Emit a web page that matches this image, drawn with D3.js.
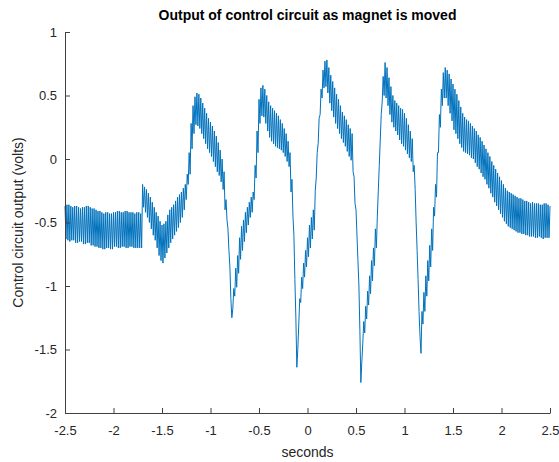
<!DOCTYPE html>
<html>
<head>
<meta charset="utf-8">
<script src="https://cdn.jsdelivr.net/npm/d3@7"></script>
<style>
  html, body { margin: 0; padding: 0; background: #fff; }
  svg { display: block; }
  text { font-family: "Liberation Sans", Arial, Helvetica, sans-serif; }
</style>
</head>
<body>
<svg id="chart" width="559" height="462"></svg>
<script>
// ---- data ----
const chartTitle = "Output of control circuit as magnet is moved";
const xLabel = "seconds";
const yLabel = "Control circuit output (volts)";

// one oscillation cycle every 0.02 s from -2.5 s to 2.5 s
const cycleStart = -2.5;
const cycleStep = 0.02;

// peak (upper) value of each cycle, volts
const upperVolts = [
  -0.37,-0.36,-0.36,-0.37,-0.38,-0.37,-0.37,-0.38,-0.39,-0.38,
  -0.38,-0.37,-0.37,-0.38,-0.39,-0.39,-0.40,-0.41,-0.41,-0.42,
  -0.43,-0.42,-0.42,-0.43,-0.43,-0.42,-0.42,-0.41,-0.41,-0.42,
  -0.42,-0.41,-0.41,-0.42,-0.42,-0.42,-0.43,-0.42,-0.42,-0.43,
  -0.20,-0.22,-0.24,-0.27,-0.30,-0.34,-0.38,-0.42,-0.45,-0.49,
  -0.52,-0.51,-0.49,-0.44,-0.40,-0.38,-0.36,-0.33,-0.30,-0.28,
  -0.26,-0.23,-0.20,-0.12,
   0.05, 0.28, 0.42, 0.49, 0.52, 0.51, 0.48, 0.44, 0.40, 0.36,
   0.32, 0.29, 0.26, 0.22, 0.18, 0.13, 0.07, 0.00,-0.10,
  -0.32,-0.55,-0.85,-1.25,-1.02,-0.86,-0.76,-0.62,-0.53,-0.48,
  -0.42,-0.38,-0.34,-0.30,-0.26,
  -0.05, 0.22, 0.47, 0.56, 0.58, 0.55, 0.50, 0.45, 0.42, 0.40,
   0.38, 0.36, 0.34, 0.31, 0.28, 0.24, 0.20, 0.14, 0.05,-0.16,
  -0.60,-1.25,-1.50,-1.10,-0.93,-0.82,-0.72,-0.62,-0.52,-0.46,
  -0.40,
  -0.25, 0.05, 0.32, 0.55, 0.70, 0.77, 0.78, 0.72, 0.66, 0.61,
   0.56, 0.51, 0.47, 0.42, 0.37, 0.34, 0.31, 0.27, 0.24, 0.20,
  -0.14,-0.40,-0.80,-1.35,-1.60,-1.28,-1.16,-1.04,-0.92,-0.80,
  -0.70,-0.55,
  -0.45,-0.05, 0.35, 0.65, 0.76, 0.72, 0.64, 0.57, 0.50, 0.46,
   0.44, 0.42, 0.40, 0.39, 0.36, 0.32, 0.27, 0.22, 0.16,-0.05,
  -0.50,-0.95,-1.40,-1.20,-1.05,-0.92,-0.80,-0.68,-0.55,-0.38,
  -0.20, 0.05, 0.35, 0.55, 0.68, 0.72, 0.70, 0.67, 0.63, 0.59,
   0.55, 0.51, 0.46, 0.41, 0.36, 0.33, 0.31, 0.30, 0.28, 0.26,
   0.24, 0.22, 0.19, 0.17, 0.14, 0.11, 0.08, 0.05, 0.02,-0.02,
  -0.05,-0.08,-0.11,-0.14,-0.17,-0.20,-0.23,-0.25,-0.26,-0.27,
  -0.28,-0.29,-0.30,-0.31,-0.31,-0.32,-0.33,-0.33,-0.34,-0.35,
  -0.34,-0.35,-0.35,-0.35,-0.36,-0.36,-0.35,-0.35,-0.36,-0.37
];

// trough (lower) value of each cycle, volts (half a cycle after the peak)
const lowerVolts = [
  -0.63,-0.64,-0.65,-0.64,-0.64,-0.66,-0.66,-0.65,-0.65,-0.67,
  -0.67,-0.66,-0.66,-0.68,-0.68,-0.69,-0.69,-0.70,-0.70,-0.71,
  -0.71,-0.70,-0.70,-0.71,-0.71,-0.69,-0.69,-0.70,-0.70,-0.69,
  -0.69,-0.70,-0.70,-0.69,-0.69,-0.70,-0.70,-0.70,-0.70,-0.70,
  -0.38,-0.42,-0.46,-0.50,-0.55,-0.60,-0.64,-0.70,-0.76,-0.80,
  -0.82,-0.78,-0.74,-0.70,-0.66,-0.63,-0.60,-0.57,-0.54,-0.50,
  -0.46,-0.40,-0.32,-0.20,
  -0.12, 0.08, 0.20, 0.27, 0.26, 0.24, 0.20, 0.16, 0.12, 0.08,
   0.05, 0.02,-0.02,-0.06,-0.10,-0.13,-0.18,-0.24,-0.40,
  -0.48,-0.72,-1.10,-1.18,-1.08,-1.01,-0.90,-0.79,-0.72,-0.65,
  -0.58,-0.52,-0.46,-0.42,-0.32,
  -0.15, 0.05, 0.28, 0.34, 0.33, 0.28, 0.22, 0.17, 0.14, 0.12,
   0.10, 0.09, 0.08, 0.07, 0.05, 0.02,-0.02,-0.06,-0.26,-0.45,
  -0.95,-1.64,-1.30,-1.13,-1.02,-0.93,-0.85,-0.77,-0.70,-0.63,
  -0.56,
  -0.15, 0.12, 0.35, 0.48, 0.56, 0.57, 0.52, 0.44, 0.38, 0.33,
   0.28, 0.24, 0.20, 0.16, 0.13, 0.10, 0.06, 0.02,-0.01,-0.10,
  -0.35,-0.60,-1.00,-1.76,-1.45,-1.37,-1.26,-1.15,-1.06,-0.96,
  -0.84,-0.70,
  -0.25, 0.15, 0.45, 0.50, 0.48, 0.42, 0.35, 0.29, 0.25, 0.22,
   0.19, 0.15, 0.12, 0.10, 0.07, 0.04, 0.01,-0.02,-0.10,-0.24,
  -0.72,-1.20,-1.53,-1.30,-1.20,-1.08,-0.96,-0.85,-0.72,-0.45,
  -0.30, 0.05, 0.25, 0.42, 0.48, 0.48, 0.42, 0.36, 0.30, 0.23,
   0.20, 0.16, 0.12, 0.09, 0.06, 0.05, 0.04, 0.03, 0.01, 0.00,
  -0.03,-0.06,-0.08,-0.11,-0.14,-0.16,-0.20,-0.23,-0.27,-0.30,
  -0.34,-0.37,-0.40,-0.43,-0.46,-0.49,-0.51,-0.53,-0.54,-0.55,
  -0.56,-0.57,-0.58,-0.58,-0.59,-0.59,-0.60,-0.60,-0.61,-0.61,
  -0.61,-0.62,-0.62,-0.61,-0.62,-0.63,-0.62,-0.62,-0.62
];

const xTicks = [-2.5, -2, -1.5, -1, -0.5, 0, 0.5, 1, 1.5, 2, 2.5];
const xTickLabels = ["-2.5","-2","-1.5","-1","-0.5","0","0.5","1","1.5","2","2.5"];
const yTicks = [-2, -1.5, -1, -0.5, 0, 0.5, 1];
const yTickLabels = ["-2","-1.5","-1","-0.5","0","0.5","1"];

// ---- layout ----
const svg = d3.select("#chart");
const plot = { left: 65, top: 32, right: 550, bottom: 413 };
const axisColor = "#262626";

const x = d3.scaleLinear().domain([-2.5, 2.5]).range([plot.left, plot.right]);
const y = d3.scaleLinear().domain([-2, 1]).range([plot.bottom, plot.top]);

// interleave peaks and troughs into one signal trace
const series = [];
upperVolts.forEach((v, i) => {
  const t = cycleStart + i * cycleStep;
  series.push({ t, v });
  if (i < lowerVolts.length) series.push({ t: t + cycleStep / 2, v: lowerVolts[i] });
});

const line = d3.line().x(d => x(d.t)).y(d => y(d.v));
svg.append("path")
  .datum(series)
  .attr("fill", "none")
  .attr("stroke", "#0072BD")
  .attr("stroke-width", 1)
  .attr("stroke-linejoin", "round")
  .attr("d", line);

// axes
const xAxis = d3.axisBottom(x)
  .tickValues(xTicks)
  .tickFormat((d, i) => xTickLabels[i])
  .tickSizeInner(-5).tickSizeOuter(0).tickPadding(13);
const yAxis = d3.axisLeft(y)
  .tickValues(yTicks)
  .tickFormat((d, i) => yTickLabels[i])
  .tickSizeInner(-5).tickSizeOuter(0).tickPadding(8);

const gx = svg.append("g").attr("transform", `translate(0,${plot.bottom})`).call(xAxis);
const gy = svg.append("g").attr("transform", `translate(${plot.left},0)`).call(yAxis);

[gx, gy].forEach(g => {
  g.select(".domain").attr("stroke", "#404040").attr("stroke-width", 1);
  g.selectAll(".tick line").attr("stroke", "#404040").attr("stroke-width", 1);
  g.selectAll(".tick text")
    .attr("fill", axisColor)
    .style("font-size", "13px")
    .style("font-family", '"Liberation Sans", Arial, sans-serif');
});

// title and axis labels
svg.append("text")
  .attr("x", (plot.left + plot.right) / 2)
  .attr("y", 20)
  .attr("text-anchor", "middle")
  .attr("fill", "#000")
  .style("font-size", "14px")
  .style("font-weight", "bold")
  .text(chartTitle);

svg.append("text")
  .attr("x", (plot.left + plot.right) / 2)
  .attr("y", 457)
  .attr("text-anchor", "middle")
  .attr("fill", axisColor)
  .style("font-size", "14px")
  .text(xLabel);

svg.append("text")
  .attr("transform", `translate(23,${(plot.top + plot.bottom) / 2}) rotate(-90)`)
  .attr("text-anchor", "middle")
  .attr("fill", axisColor)
  .style("font-size", "14px")
  .text(yLabel);
</script>
</body>
</html>
